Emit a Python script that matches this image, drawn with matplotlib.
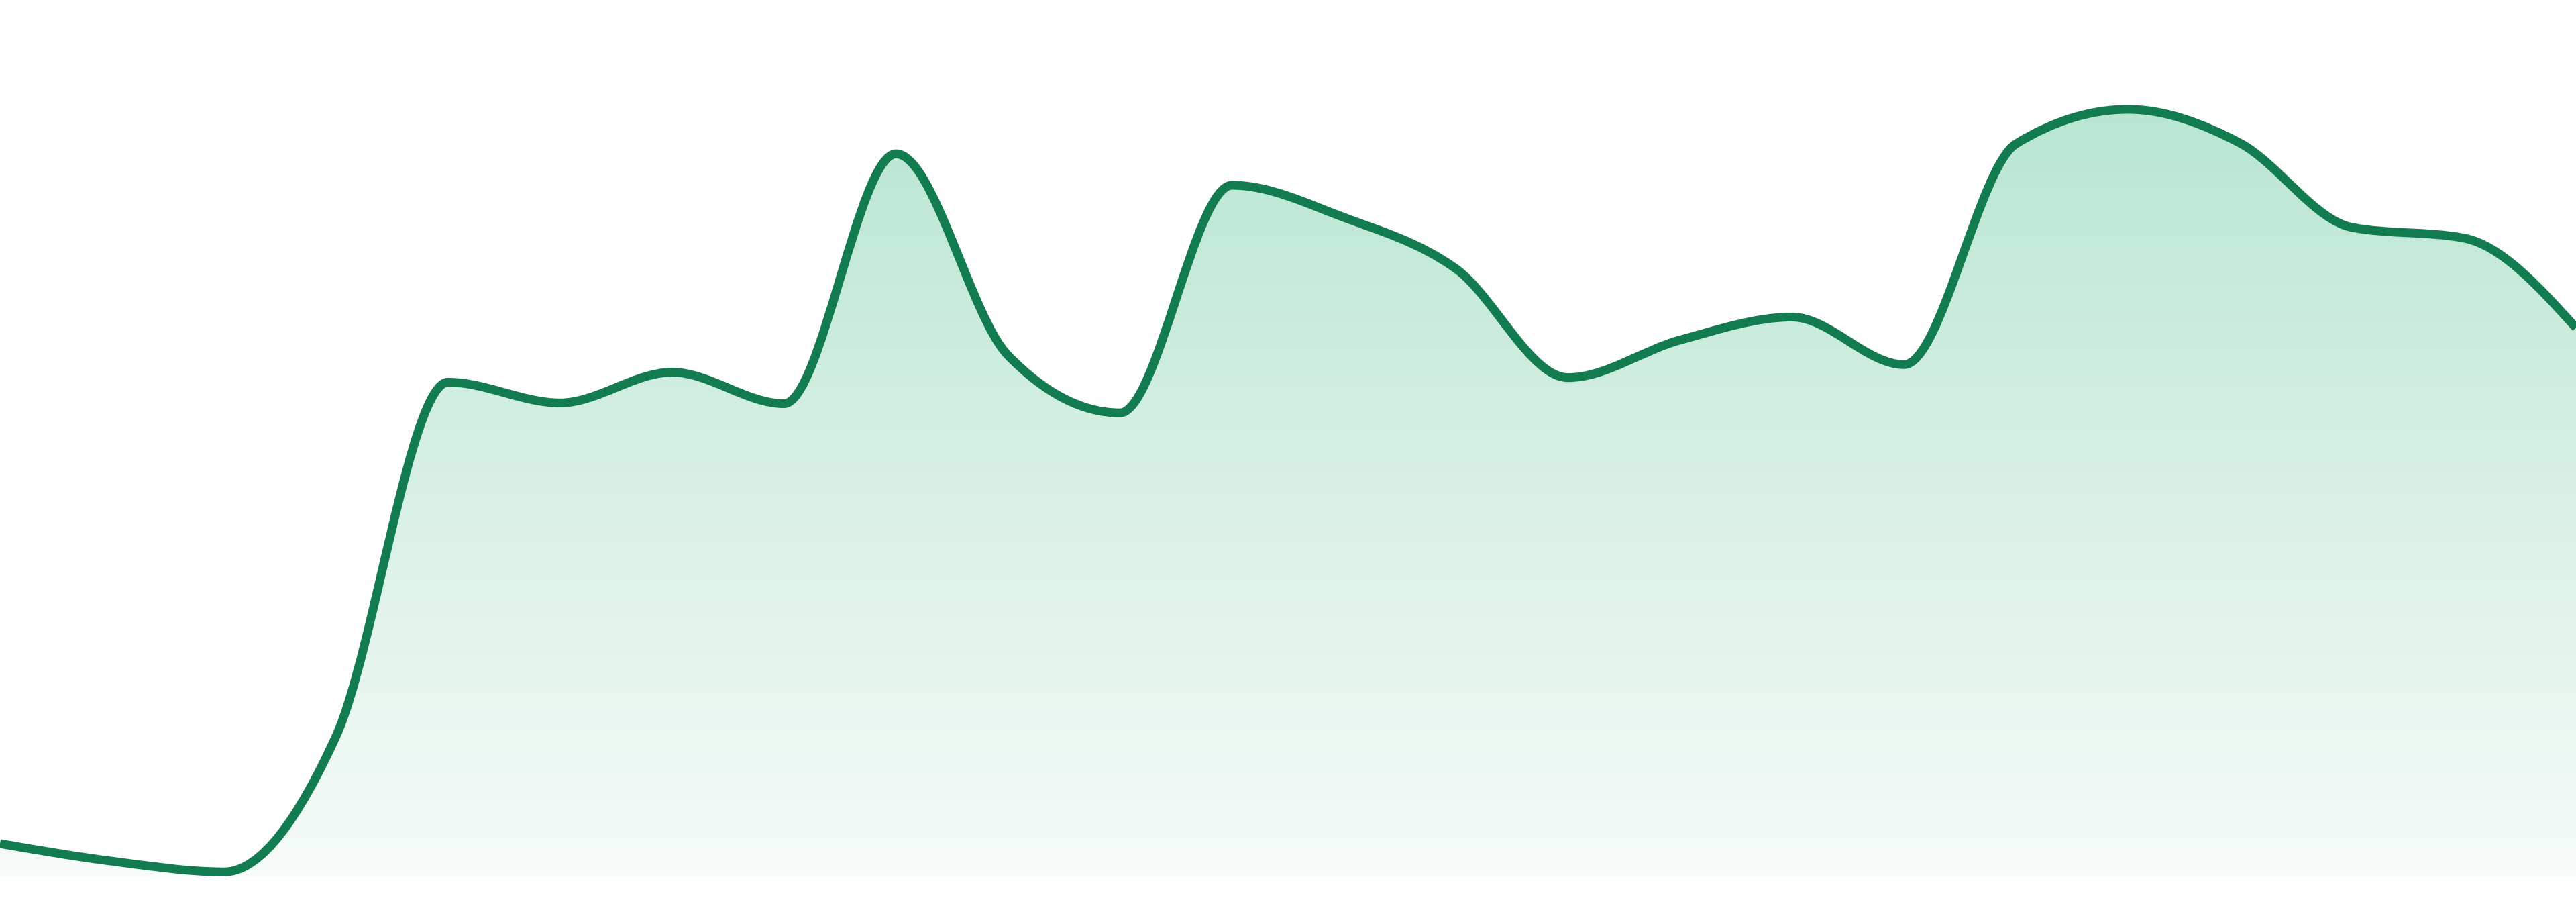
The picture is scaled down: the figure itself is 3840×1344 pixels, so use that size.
import numpy as np
import matplotlib
matplotlib.use("Agg")
import matplotlib.pyplot as plt
from matplotlib.path import Path
from matplotlib.patches import PathPatch
from matplotlib.colors import LinearSegmentedColormap

# values (peak = 100)
values = [4.2, 1.9, 0.5, 18.2, 64.4, 61.7, 65.7, 61.6, 94.2, 67.9, 60.4, 90.1,
          85.9, 79.2, 65.0, 69.9, 72.9, 66.7, 95.5, 100.0, 95.6, 84.6, 83.2, 71.5]

line_color = "#127b50"
fill_top = "#b9e6d2"
fill_bottom = "#f7fbf9"


#--------------------------------------------------
# monotone-x cubic (same rule as d3 curveMonotoneX)
def monotone_slopes(x, y):
    n = len(x)
    t = np.zeros(n)
    for i in range(1, n - 1):
        h0 = x[i] - x[i - 1]
        h1 = x[i + 1] - x[i]
        s0 = (y[i] - y[i - 1]) / h0
        s1 = (y[i + 1] - y[i]) / h1
        p = (s0 * h1 + s1 * h0) / (h0 + h1)
        t[i] = (np.sign(s0) + np.sign(s1)) * min(abs(s0), abs(s1), 0.5 * abs(p))
    h = x[1] - x[0]
    t[0] = (3 * (y[1] - y[0]) / h - t[1]) / 2
    h = x[-1] - x[-2]
    t[-1] = (3 * (y[-1] - y[-2]) / h - t[-2]) / 2
    return t


def curve_path(x, y, base=None):
    t = monotone_slopes(x, y)
    verts = []
    codes = []
    if base is not None:
        verts.append((x[0], base))
        codes.append(Path.MOVETO)
        verts.append((x[0], y[0]))
        codes.append(Path.LINETO)
    else:
        verts.append((x[0], y[0]))
        codes.append(Path.MOVETO)
    for i in range(len(x) - 1):
        dx = (x[i + 1] - x[i]) / 3.0
        verts += [(x[i] + dx, y[i] + dx * t[i]),
                  (x[i + 1] - dx, y[i + 1] - dx * t[i + 1]),
                  (x[i + 1], y[i + 1])]
        codes += [Path.CURVE4] * 3
    if base is not None:
        verts.append((x[-1], base))
        codes.append(Path.LINETO)
        verts.append((x[0], base))
        codes.append(Path.CLOSEPOLY)
    return Path(verts, codes)


#--------------------------------------------------
xs = np.arange(len(values), dtype=float)
ys = np.array(values, dtype=float)

fig = plt.figure(figsize=(19.2, 6.72), dpi=200)
ax = fig.add_axes([0, 0, 1, 1])
ax.set_xlim(0, len(values) - 1)
ax.set_ylim(-3.42, 114.27)
ax.axis("off")

# gradient area
area = PathPatch(curve_path(xs, ys, base=0.0), facecolor="none", edgecolor="none")
ax.add_patch(area)

cmap = LinearSegmentedColormap.from_list("fade", [fill_bottom, fill_top])
grad = np.linspace(0, 1, 256).reshape(-1, 1)
img = ax.imshow(grad, extent=[xs[0], xs[-1], 0.0, ys.max()], origin="lower",
                aspect="auto", cmap=cmap, interpolation="bilinear", zorder=1)
img.set_clip_path(area)

# line on top
line = PathPatch(curve_path(xs, ys), facecolor="none", edgecolor=line_color,
                 lw=4.7, capstyle="butt", joinstyle="round", zorder=2)
ax.add_patch(line)

fig.savefig("out.png", dpi=200, facecolor="white")
